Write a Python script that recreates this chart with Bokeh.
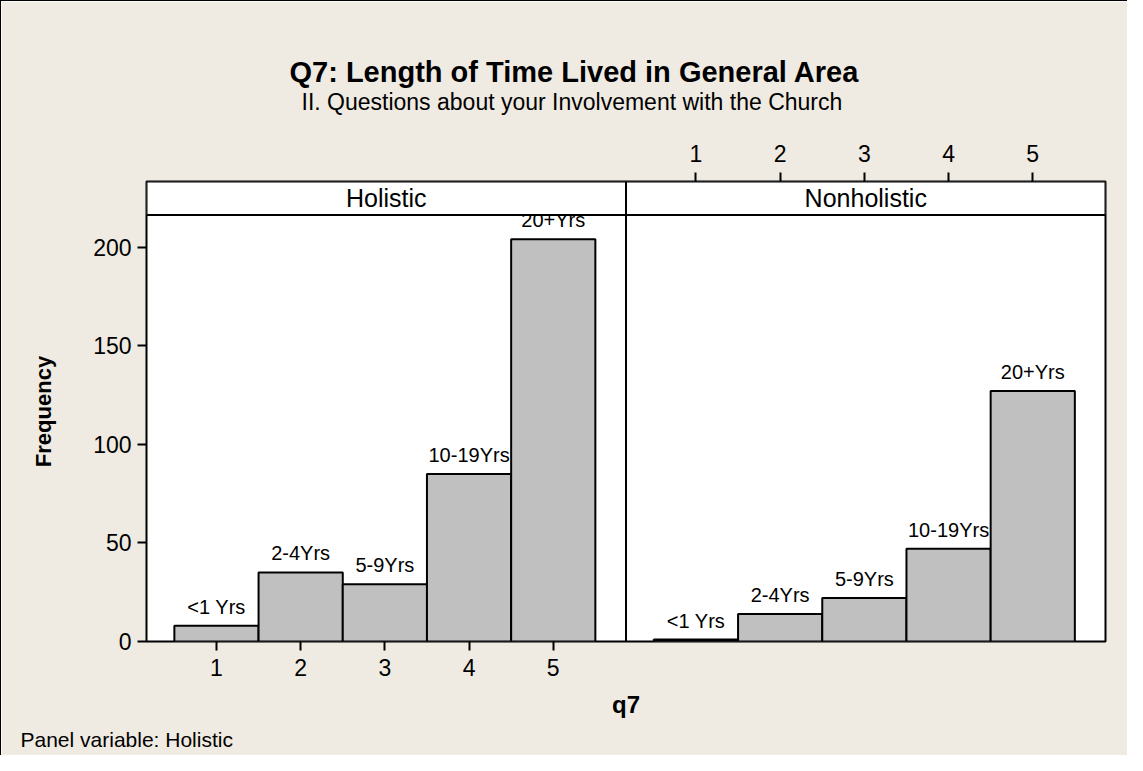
from bokeh.plotting import figure
from bokeh.models import Range1d, FixedTicker, LinearAxis, Title, Grid
from bokeh.core.properties import value
from bokeh.embed import file_html
from bokeh.resources import INLINE

# ---------------- data ----------------
categories = [1, 2, 3, 4, 5]
bar_labels = ["<1 Yrs", "2-4Yrs", "5-9Yrs", "10-19Yrs", "20+Yrs"]
holistic = [8, 35, 29, 85, 204]
nonholistic = [1, 14, 22, 47, 127]
panels = ["Holistic", "Nonholistic"]
y_ticks = [0, 50, 100, 150, 200]
x_ticks = [1, 2, 3, 4, 5]

title_text = "Q7: Length of Time Lived in General Area"
subtitle_text = "II. Questions about your Involvement with the Church"
x_label = "q7"
y_label = "Frequency"
footnote = "Panel variable: Holistic"

# ---------------- layout ----------------
BG = "#EFEBE2"
BAR = "#C0C0C0"
FONT = "Liberation Sans"
W_PX, H_PX = 1127, 755
L, R, T, B = 145, 23, 180, 115
FW = W_PX - L - R
FH = H_PX - T - B

X0 = 0.169          # left edge of panels (data units)
PW = 5.695          # width of one panel (data units)
Y1 = 233.3          # top of frame (data units)
ppx = FW / (2 * PW)
ppy = FH / Y1
STRIP = Y1 - 33.5 / ppy   # bottom of strip

p = figure(width=W_PX, height=H_PX, output_backend="svg", toolbar_location=None,
           title=None,
           x_range=Range1d(X0, X0 + 2 * PW), y_range=Range1d(0, Y1),
           x_axis_location=None, y_axis_location=None)
p.extra_x_ranges = {"right": Range1d(X0 - PW, X0 + PW)}
for r in list(p.center):
    if isinstance(r, Grid):
        r.visible = False

p.min_border_left = L
p.min_border_right = R
p.min_border_top = T
p.min_border_bottom = B
p.background_fill_color = "white"
p.border_fill_color = BG
p.outline_line_color = "black"
p.outline_line_width = 2
p.styles = {"border-left": "1px solid black", "border-top": "1px solid black"}


def style_axis(ax, standoff):
    ax.axis_line_color = None
    ax.major_tick_line_color = "black"
    ax.major_tick_line_width = 2
    ax.major_tick_out = 9
    ax.major_tick_in = 0
    ax.minor_tick_line_color = None
    ax.major_label_text_font = FONT
    ax.major_label_text_font_size = "23px"
    ax.major_label_text_color = "black"
    ax.major_label_standoff = standoff
    ax.axis_label_text_font = FONT
    ax.axis_label_text_font_style = "bold"
    ax.axis_label_text_color = "black"


yax = LinearAxis(ticker=FixedTicker(ticks=y_ticks), axis_label=y_label)
style_axis(yax, 6)
yax.axis_label_text_font_size = "22px"
yax.axis_label_standoff = 34
p.add_layout(yax, "left")

xb = LinearAxis(ticker=FixedTicker(ticks=x_ticks), axis_label=x_label)
style_axis(xb, 8)
xb.axis_label_text_font_size = "24px"
xb.axis_label_standoff = 12
p.add_layout(xb, "below")

xt = LinearAxis(ticker=FixedTicker(ticks=x_ticks), x_range_name="right")
style_axis(xt, 11)
p.add_layout(xt, "above")

# titles (stacked outward from the frame)
p.add_layout(Title(text=subtitle_text, align="left", offset=155, standoff=54,
                   text_font=FONT, text_font_size="23px", text_font_style="normal",
                   text_color="black"), "above")
p.add_layout(Title(text=title_text, align="left", offset=143, standoff=-56,
                   text_font=FONT, text_font_size="29px", text_font_style="bold",
                   text_color="black"), "above")
p.add_layout(Title(text=footnote, align="left", offset=-126, standoff=10,
                   text_font=FONT, text_font_size="21px", text_font_style="normal",
                   text_color="black"), "below")

# bars
p.vbar(x=categories, top=holistic, bottom=0, width=1, fill_color=BAR,
       line_color="black", line_width=2)
p.vbar(x=categories, top=nonholistic, bottom=0, width=1, fill_color=BAR,
       line_color="black", line_width=2, x_range_name="right")

# bar labels
off = 19 / ppy
p.text(x=categories, y=[v + off for v in holistic], text=bar_labels,
       text_align="center", text_baseline="alphabetic",
       text_font=value(FONT), text_font_size="20px", text_color="black")
p.text(x=categories, y=[v + off for v in nonholistic], text=bar_labels,
       text_align="center", text_baseline="alphabetic",
       text_font=value(FONT), text_font_size="20px", text_color="black",
       x_range_name="right")

# strips
p.quad(left=[X0, X0 + PW], right=[X0 + PW, X0 + 2 * PW], bottom=STRIP, top=Y1,
       fill_color="white", line_color="black", line_width=2)
p.text(x=[X0 + PW / 2, X0 + 1.5 * PW], y=[(STRIP + Y1) / 2] * 2, text=panels,
       text_align="center", text_baseline="middle",
       text_font=value(FONT), text_font_size="25px", text_color="black")
p.segment(x0=[X0 + PW], y0=[0], x1=[X0 + PW], y1=[Y1], line_color="black", line_width=2)

open("out.html", "w").write(file_html(p, INLINE))
